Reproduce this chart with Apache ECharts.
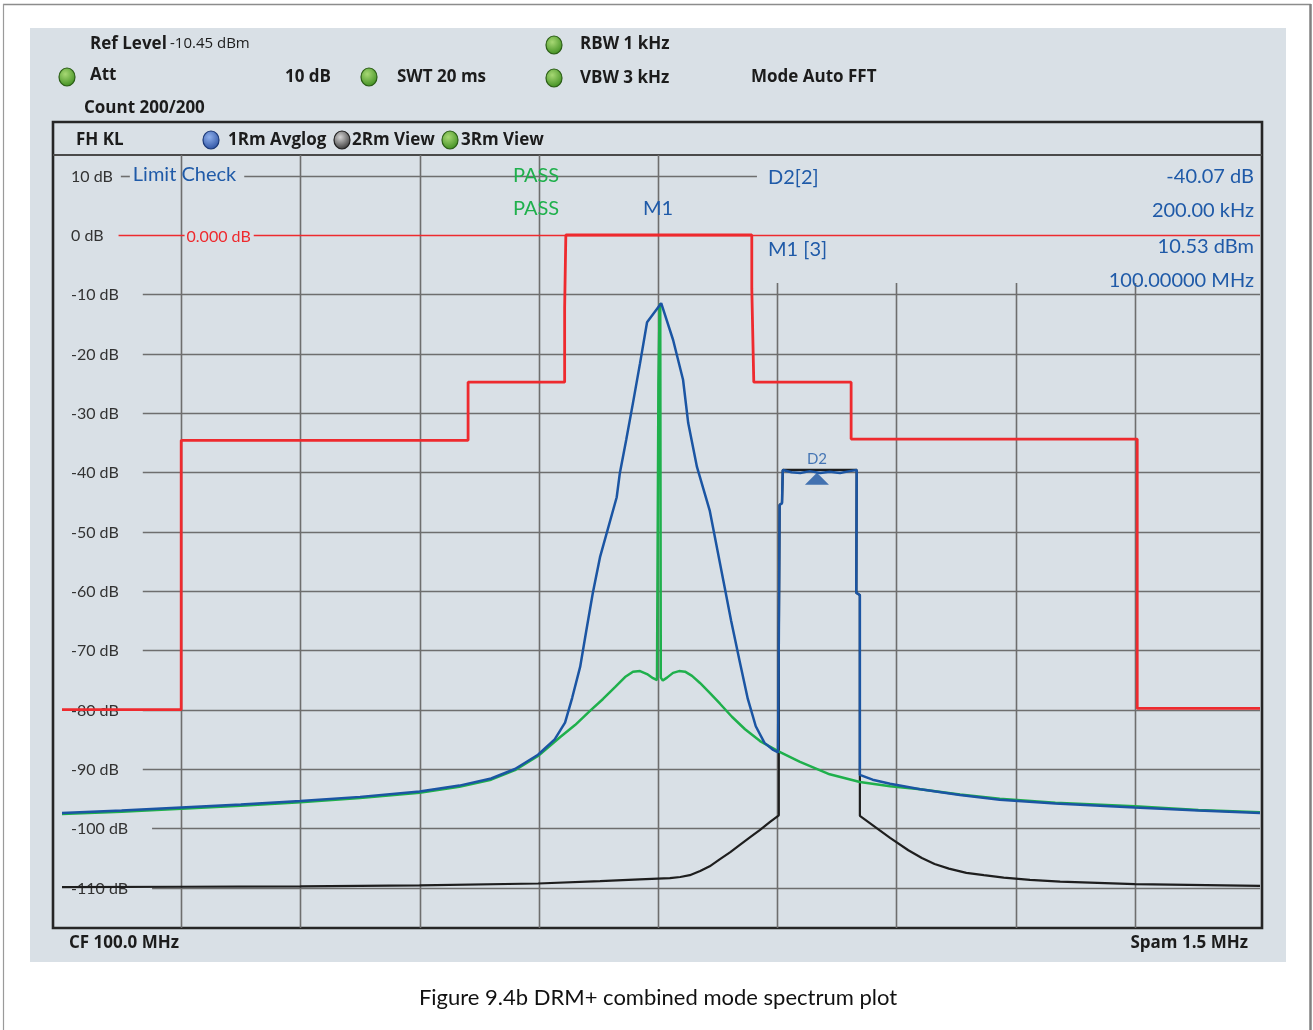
<!DOCTYPE html>
<html>
<head>
<meta charset="utf-8">
<script src="https://cdn.jsdelivr.net/npm/echarts@6/dist/echarts.min.js"></script>
<style>
  html, body { margin: 0; padding: 0; background: #ffffff; }
  #chart { width: 1313px; height: 1030px; }
</style>
</head>
<body>
<div id="chart"></div>
<script>
// Level scale (dB) and frequency grid (kHz offset from the 100 MHz centre)
const levelTicks = [10, 0, -10, -20, -30, -40, -50, -60, -70, -80, -90, -100, -110];
const freqGrid = [-600, -450, -300, -150, 0, 150, 300, 450, 600];

// Spectrum mask / limit line: [kHz offset, dB]
const limitLine = [
  [-750, -80], [-600, -80], [-600, -34.6], [-239, -34.6], [-239, -24.8],
  [-117.5, -24.8], [-117.5, -12.3], [-116, -12.3], [-116, 0], [118, 0],
  [118, -9], [120.5, -9], [120.5, -24.8], [243, -24.8], [243, -34.4],
  [603, -34.4], [603, -79.8], [757.5, -79.8]
];

// Trace 1: 1Rm Avglog (blue)
const trace1 = [
  [-750, -97.4], [-675, -97.0], [-600, -96.5], [-525, -96.0], [-450, -95.4],
  [-375, -94.7], [-300, -93.8], [-250, -92.8], [-210, -91.6], [-180, -90.0],
  [-151, -87.6], [-130, -85.0], [-117, -82.2], [-108, -78.0], [-98, -72.8],
  [-90, -66.5], [-82, -60.3], [-73, -54.3], [-52, -44.2], [-48, -40.1],
  [-40, -34.5], [-31.5, -28.3], [-22.6, -21.6], [-13.8, -14.7], [4, -11.5],
  [19, -17.7], [31.5, -24.4], [38, -31.7], [49, -39.1], [65, -46.4],
  [82, -58.1], [92, -65.0], [103, -72.0], [113, -78.2], [123, -82.8],
  [134, -85.6], [145, -86.8], [151, -87.2], [152, -68.3], [153, -45.5],
  [156, -45.2], [157, -39.6], [168, -40.0], [179, -40.1], [191, -39.8],
  [204, -40.1], [216, -39.9], [229, -40.1], [241, -39.8], [250, -39.6],
  [249.5, -60.3], [254, -60.7], [254, -91.0], [270, -91.8], [292, -92.5],
  [330, -93.4], [380, -94.4], [430, -95.2], [500, -95.8], [600, -96.5],
  [680, -97.0], [757.5, -97.4]
];

// Trace 2: 2Rm View (black)
const trace2 = [
  [-750, -109.9], [-600, -109.85], [-450, -109.8], [-300, -109.6], [-151, -109.3],
  [-73, -108.9], [-23, -108.6], [15, -108.4], [28, -108.2], [40, -107.9],
  [53, -107.2], [65, -106.4], [78, -105.2], [91, -104.0], [103, -102.8],
  [116, -101.5], [128, -100.3], [141, -98.9], [152, -97.8], [152, -68.3],
  [153, -45.5], [156, -45.2], [157, -39.6], [250, -39.6], [249.5, -60.3],
  [254, -60.7], [254, -97.9], [292, -101.6], [315, -103.7], [332, -105.0],
  [348, -106.0], [366, -106.8], [388, -107.5], [410, -107.9], [435, -108.3],
  [468, -108.7], [506, -109.0], [600, -109.4], [757.5, -109.7]
];

// Trace 3: 3Rm View (green)
const trace3 = [
  [-750, -97.6], [-675, -97.2], [-600, -96.7], [-525, -96.2], [-450, -95.6],
  [-375, -94.9], [-300, -94.0], [-250, -93.0], [-210, -91.8], [-180, -90.2],
  [-151, -87.8], [-123, -84.6], [-104.4, -82.6], [-85.6, -80.2], [-69.2, -78.2],
  [-54.1, -76.2], [-41.5, -74.5], [-31.5, -73.6], [-22.6, -73.5], [-13.8, -74.0],
  [-6.3, -74.7], [-1.3, -75.0], [0, -74.9], [0.5, -25.2], [1.6, -25.0],
  [2, -12.0], [2.8, -11.5], [3.5, -74.6], [6, -75.1], [11.3, -74.6],
  [18.9, -73.8], [26.4, -73.5], [34, -73.6], [42.8, -74.3], [52.8, -75.5],
  [65.4, -77.2], [78, -79.0], [93, -81.2], [109.5, -83.3], [128.4, -85.3],
  [151, -87.0], [178.7, -88.8], [216, -90.9], [254, -92.2], [292, -92.9],
  [330, -93.4], [380, -94.3], [430, -95.0], [500, -95.7], [600, -96.3],
  [680, -96.9], [757.5, -97.3]
];

// Marker D2: [kHz offset from M1, level dB]
const d2Marker = [200, -40.07];
const markerNames = ['D2[2]', 'M1 [3]'];
const markerReadouts = ['-40.07 dB', '200.00 kHz', '10.53 dBm', '100.00000 MHz'];
const displayLineLabel = '0.000 dB';
const limitCheckLabel = 'Limit Check';
const limitResults = ['PASS', 'PASS'];

const FONT = 'Lato, "Open Sans", "DejaVu Sans", sans-serif';
const HEAD_FONT = '"Open Sans", Lato, sans-serif';
const BG = '#d9e0e6';
const BLUE = '#1b55a3';
const MARK_BLUE = '#1f5aa8';
const GREEN = '#1fb04c';
const RED = '#ee2a2e';
const GRID = '#6e6e6e';

const measureCtx = document.createElement('canvas').getContext('2d');
function textWidth(t, font) { measureCtx.font = font; return measureCtx.measureText(t).width; }

const TICK_FONT = '16px ' + FONT;
const MARK_FONT = '20px ' + FONT;

// Grid, scale labels, display line and marker readouts inside the plot
function renderGrid(params, api) {
  const cs = params.coordSys;
  const left = cs.x, right = cs.x + cs.width, top = cs.y, bottom = cs.y + cs.height;
  const c = (x, y) => api.coord([x, y]);
  const children = [];
  const gridStyle = { stroke: GRID, lineWidth: 1.6 };
  const boxLeft = c(124.5, 0)[0];      // left edge of the marker readout block
  const boxBottom = c(0, -8.1)[1];

  freqGrid.forEach(f => {
    const x = Math.round(c(f, 0)[0]) + 0.5;
    const y0 = x > boxLeft ? boxBottom : top;
    children.push({ type: 'line', shape: { x1: x, y1: y0, x2: x, y2: bottom }, style: gridStyle });
  });

  levelTicks.forEach(v => {
    const y = Math.round(c(0, v)[1]) + 0.5;
    const label = v + ' dB';
    const tx = left + 9;
    const w = textWidth(label, TICK_FONT);
    children.push({ type: 'text', x: tx, y: y, style: { text: label, font: TICK_FONT, fill: '#333333', align: 'left', verticalAlign: 'middle' } });
    if (v === 10) {
      const s = tx + w + 8;
      const lcX = s + 12;
      const lcW = textWidth(limitCheckLabel, MARK_FONT);
      children.push({ type: 'line', shape: { x1: s, y1: y, x2: lcX - 3, y2: y }, style: gridStyle });
      children.push({ type: 'line', shape: { x1: lcX + lcW + 8, y1: y, x2: boxLeft, y2: y }, style: gridStyle });
      children.push({ type: 'text', x: lcX, y: y - 2, style: { text: limitCheckLabel, font: MARK_FONT, fill: MARK_BLUE, align: 'left', verticalAlign: 'middle' } });
    } else if (v === 0) {
      const s = tx + w + 15;
      const lx = s + 68;
      const lw = textWidth(displayLineLabel, TICK_FONT);
      const red = { stroke: RED, lineWidth: 1.3 };
      children.push({ type: 'line', shape: { x1: s, y1: y, x2: lx - 2, y2: y }, style: red });
      children.push({ type: 'line', shape: { x1: lx + lw + 3, y1: y, x2: right, y2: y }, style: red });
      children.push({ type: 'text', x: lx, y: y + 1, style: { text: displayLineLabel, font: TICK_FONT, fill: RED, align: 'left', verticalAlign: 'middle' } });
    } else {
      const s = tx + w + 24;
      children.push({ type: 'line', shape: { x1: s, y1: y, x2: right, y2: y }, style: gridStyle });
    }
  });

  // limit check results
  const passX = c(-153.5, 0)[0];
  children.push({ type: 'text', x: passX, y: c(0, 10)[1], style: { text: limitResults[0], font: MARK_FONT, fill: GREEN, align: 'center', verticalAlign: 'middle' } });
  children.push({ type: 'text', x: passX, y: c(0, 4.5)[1], style: { text: limitResults[1], font: MARK_FONT, fill: GREEN, align: 'center', verticalAlign: 'middle' } });

  // marker flag M1 at the centre frequency
  children.push({ type: 'text', x: c(0, 0)[0], y: c(0, 4.5)[1], style: { text: 'M1', font: MARK_FONT, fill: MARK_BLUE, align: 'center', verticalAlign: 'middle' } });

  // marker readout block
  const nameX = c(138.4, 0)[0];
  children.push({ type: 'text', x: nameX, y: c(0, 9.6)[1], style: { text: markerNames[0], font: MARK_FONT, fill: MARK_BLUE, align: 'left', verticalAlign: 'middle' } });
  children.push({ type: 'text', x: nameX, y: c(0, -2.5)[1], style: { text: markerNames[1], font: MARK_FONT, fill: MARK_BLUE, align: 'left', verticalAlign: 'middle' } });
  const ry = [9.8, 4.2, -2.0, -7.6];
  markerReadouts.forEach((t, i) => {
    children.push({ type: 'text', x: right - 6, y: c(0, ry[i])[1], style: { text: t, font: MARK_FONT, fill: MARK_BLUE, align: 'right', verticalAlign: 'middle' } });
  });

  return { type: 'group', children: children };
}

function dot(cx, cy, c0, c1, edge) {
  return {
    type: 'ellipse', shape: { cx: cx, cy: cy, rx: 8, ry: 9 },
    style: {
      fill: { type: 'radial', x: 0.4, y: 0.35, r: 0.75, colorStops: [{ offset: 0, color: c0 }, { offset: 1, color: c1 }] },
      stroke: edge, lineWidth: 1.2
    }
  };
}
function label(x, y, text, opts) {
  return {
    type: 'text', x: x, y: y,
    style: Object.assign({ text: text, font: 'bold 17px ' + HEAD_FONT, fill: '#1c1c1c', align: 'left', verticalAlign: 'middle' }, opts || {})
  };
}
const greenDot = (x, y) => dot(x, y, '#a7d874', '#3c8c1d', '#2d5f18');

const chart = echarts.init(document.getElementById('chart'), null, { renderer: 'canvas' });

chart.setOption({
  backgroundColor: '#ffffff',
  animation: false,
  grid: { left: 62, top: 155, width: 1198, height: 773, containLabel: false },
  xAxis: { type: 'value', min: -750, max: 757.5, show: false },
  yAxis: { type: 'value', min: -116.8, max: 13.48, show: false },
  graphic: [
    // page frame
    { type: 'line', shape: { x1: 3, y1: 4.5, x2: 1311, y2: 4.5 }, style: { stroke: '#8c8c8c', lineWidth: 1.5 } },
    { type: 'line', shape: { x1: 3.5, y1: 4, x2: 3.5, y2: 1030 }, style: { stroke: '#9a9a9a', lineWidth: 1.2 } },
    { type: 'line', shape: { x1: 1310.5, y1: 4, x2: 1310.5, y2: 1030 }, style: { stroke: '#808080', lineWidth: 2.5 } },
    // instrument panel
    { type: 'rect', shape: { x: 30, y: 28, width: 1256, height: 934 }, style: { fill: BG } },
    { type: 'rect', shape: { x: 53, y: 122, width: 1209, height: 806 }, style: { fill: 'none', stroke: '#262626', lineWidth: 2.6 } },
    { type: 'line', shape: { x1: 53, y1: 155, x2: 1262, y2: 155 }, style: { stroke: '#4a4a4a', lineWidth: 2 } },

    // settings header
    label(90, 44, 'Ref Level'),
    label(170, 44, '-10.45 dBm', { font: '15px ' + HEAD_FONT }),
    greenDot(67, 77), label(90, 75, 'Att'),
    label(285, 77, '10 dB'),
    greenDot(369, 77), label(397, 77, 'SWT 20 ms'),
    greenDot(554, 45), label(580, 44, 'RBW 1 kHz'),
    greenDot(554, 78), label(580, 78, 'VBW 3 kHz'),
    label(751, 77, 'Mode Auto FFT'),
    label(84, 108, 'Count 200/200'),

    // trace legend row
    label(76, 140, 'FH KL'),
    dot(211, 140, '#8fb0ec', '#2a4fa0', '#1d3a78'), label(228, 140, '1Rm Avglog'),
    dot(342, 140, '#d4d4d4', '#333333', '#222222'), label(352, 140, '2Rm View'),
    dot(450, 140, '#a7d874', '#3c8c1d', '#2d5f18'), label(461, 140, '3Rm View'),

    // footer
    label(69, 943, 'CF 100.0 MHz'),
    label(1248, 943, 'Spam 1.5 MHz', { align: 'right' }),
    label(658, 998, 'Figure 9.4b DRM+ combined mode spectrum plot', { font: '22px ' + FONT, fill: '#111111', align: 'center' })
  ],
  series: [
    { type: 'custom', name: 'grid', coordinateSystem: 'cartesian2d', data: [[0, 0]], renderItem: renderGrid, silent: true, z: 1 },
    { type: 'line', name: '2Rm View', data: trace2, showSymbol: false, symbol: 'none', lineStyle: { color: '#1e1e1e', width: 2.2 }, z: 3, silent: true },
    { type: 'line', name: '3Rm View', data: trace3, showSymbol: false, symbol: 'none', lineStyle: { color: GREEN, width: 2.5 }, z: 4, silent: true },
    { type: 'line', name: '1Rm Avglog', data: trace1, showSymbol: false, symbol: 'none', lineStyle: { color: BLUE, width: 2.5 }, z: 5, silent: true },
    { type: 'line', name: 'Limit', data: limitLine, showSymbol: false, symbol: 'none', lineStyle: { color: RED, width: 2.8 }, z: 6, silent: true },
    {
      type: 'scatter', name: 'D2', data: [d2Marker], symbol: 'triangle', symbolSize: [24, 12], symbolOffset: [0, 6],
      itemStyle: { color: BLUE }, z: 7, silent: true,
      label: { show: true, position: 'top', distance: 6, formatter: 'D2', color: MARK_BLUE, fontSize: 15, fontFamily: FONT }
    }
  ]
});
</script>
</body>
</html>
